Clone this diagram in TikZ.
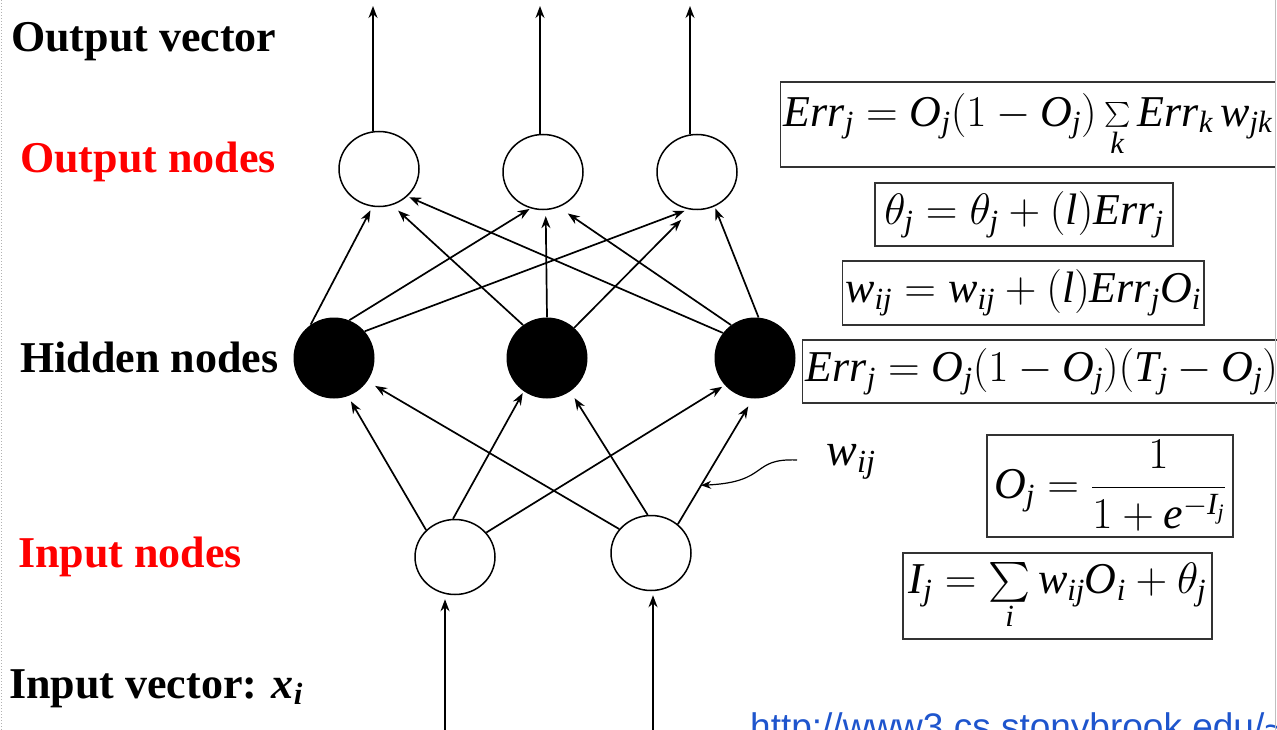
\RequirePackage{fix-cm}
\documentclass[tikz,border=0pt]{standalone}
\usepackage{amsmath}
\usepackage{graphicx}
\usepackage{fontspec}
\setmainfont{Liberation Serif}
\setsansfont{Liberation Sans}
\usepackage{xcolor}
\usetikzlibrary{positioning,arrows.meta,shapes.geometric,calc}
\definecolor{urlblue}{RGB}{30,85,205}
\newcommand{\ivar}[1]{\mathit{#1}}
\newcommand{\bigsum}{\mathop{\vcenter{\hbox{\scalebox{1.6}{$\sum$}}}}\limits}
\tikzset{
  unit/.style={draw, ellipse, line width=1.5pt, minimum width=80pt, minimum height=75pt, inner sep=0pt},
  hid/.style={circle, fill=black, minimum size=81pt, inner sep=0pt},
  layer/.style={anchor=base west, inner sep=0pt, font=\fontsize{44}{48}\selectfont\bfseries},
  eq/.style={draw=black!80, line width=1.3pt, inner sep=3pt, font=\fontsize{44}{48}\selectfont},
  flow/.style={-{Stealth[length=12pt, width=9pt]}, line width=1.7pt},
  wflow/.style={-{Stealth[length=10pt, width=8pt]}, line width=1.2pt},
}

\begin{document}
\begin{tikzpicture}[x=1pt, y=-1pt]
  \useasboundingbox (0,0) rectangle (1277,730);
  \clip (0,0) rectangle (1277,730);
  % layer labels
  \node[layer] (lov) at (11,52) {Output vector};
  \node[layer, text=red] (lon) at (20,173) {Output nodes};
  \node[layer] (lhn) at (20,372) {Hidden nodes};
  \node[layer, text=red] (lin) at (18,567) {Input nodes};
  \node[layer] (liv) at (9,698) {Input vector: \textit{x}\textsubscript{\textit{i}}};
  % units
  \node[unit] (o1) at (379,169) {};
  \node[unit] (o2) at (543,172) {};
  \node[unit] (o3) at (697,172) {};
  \node[hid] (h1) at (334,358) {};
  \node[hid] (h2) at (547,358) {};
  \node[hid] (h3) at (755,358) {};
  \node[unit] (i1) at (455,557) {};
  \node[unit] (i2) at (651,553) {};
  \coordinate (y1) at (373,6);
  \coordinate (y2) at (540,6);
  \coordinate (y3) at (690,6);
  \coordinate (x1) at (445,740);
  \coordinate (x2) at (653,740);
  % outputs and inputs
  \draw[flow] (y1 |- o1.north) -- (y1);
  \draw[flow] (y2 |- o2.north) -- (y2);
  \draw[flow] (y3 |- o3.north) -- (y3);
  \draw[flow, shorten >=4pt] (x1) -- (x1 |- i1.south);
  \draw[flow, shorten >=4pt] (x2) -- (x2 |- i2.south);
  % input -> hidden
  \draw[flow, shorten >=6pt] (i1.137) -- (h1.-70);
  \draw[flow, shorten >=2pt] (i1.93) -- (h2.-125);
  \draw[flow, shorten >=3pt] (i1.38) -- (h3.-138);
  \draw[flow, shorten >=9pt] (i2.143) -- (h1.-35);
  \draw[flow, shorten >=8pt] (i2.95) -- (h2.-55);
  \draw[flow, shorten >=9pt] (i2.47) -- (h3.-93);
  % hidden -> output
  \draw[flow, shorten >=4pt] (h1.125) -- (o1.-100);
  \draw[flow, shorten >=1pt] (h1.68) -- (o2.-109);
  \draw[flow, shorten >=4pt] (h1.41) -- (o3.-103);
  \draw[flow, shorten >=8pt] (h2.126) -- (o1.-70);
  \draw[flow, shorten >=6pt] (h2.90) -- (o2.-86);
  \draw[flow, shorten >=14pt] (h2.48) -- (o3.-99);
  \draw[flow, shorten >=2pt] (h3.142) -- (o1.-44);
  \draw[flow, shorten >=11pt] (h3.126) -- (o2.-66);
  \draw[flow, shorten >=2pt] (h3.85) -- (o3.-63);
  % weight label
  \node[font=\fontsize{46}{50}\selectfont, inner sep=0pt] (wl) at (851,462) {$\ivar{w}_{\ivar{ij}}$};
  \coordinate (wfrom) at (797,460);
  \coordinate (wtip) at ($(i2.47)!0.31!(h3.-93)$);
  \draw[wflow] (wfrom) .. controls (750,458) and (770,482) .. (wtip);
  % formulas
  \node[eq, anchor=west, minimum height=85pt, inner ysep=1pt] (e1) at (780,124.5) {$\ivar{Err}_{\ivar{j}} = \ivar{O}_{\ivar{j}}(1-\ivar{O}_{\ivar{j}})\sum\limits_{\ivar{k}} \ivar{Err}_{\ivar{k}}\,\ivar{w}_{\ivar{jk}}$};
  \node[eq, minimum width=298pt, minimum height=63pt] (e2) at (1024,214.5) {$\theta_{\ivar{j}} = \theta_{\ivar{j}} + (\ivar{l})\ivar{Err}_{\ivar{j}}$};
  \node[eq, minimum width=356pt, minimum height=64pt] (e3) at (1023,293) {$\ivar{w}_{\ivar{ij}} = \ivar{w}_{\ivar{ij}} + (\ivar{l})\ivar{Err}_{\ivar{j}}\ivar{O}_{\ivar{i}}$};
  \node[eq, anchor=west, minimum height=63pt] (e4) at (802,371.5) {$\ivar{Err}_{\ivar{j}} = \ivar{O}_{\ivar{j}}(1-\ivar{O}_{\ivar{j}})(\ivar{T}_{\ivar{j}}-\ivar{O}_{\ivar{j}})$};
  \node[eq, minimum width=246pt, minimum height=102pt, inner ysep=1pt] (e5) at (1110,486) {$\ivar{O}_{\ivar{j}} = \dfrac{1}{1+\ivar{e}^{-\ivar{I}_{\ivar{j}}}}$};
  \node[eq, minimum width=309pt, minimum height=86pt, inner ysep=1pt] (e6) at (1057.5,596) {$\ivar{I}_{\ivar{j}} = \bigsum_{\ivar{i}} \ivar{w}_{\ivar{ij}}\ivar{O}_{\ivar{i}} + \theta_{\ivar{j}}$};
  % source
  \node[anchor=base west, inner sep=0pt, text=urlblue, font=\sffamily\fontsize{37}{40}\selectfont] (url) at (750,739) {http://www3.cs.stonybrook.edu/\textasciitilde};
  \draw[black!25, line width=1pt] (1275.5,0) -- (1275.5,730);
  \draw[black!30, dotted, line width=1pt] (1,0) -- (1,730);
\end{tikzpicture}
\end{document}
